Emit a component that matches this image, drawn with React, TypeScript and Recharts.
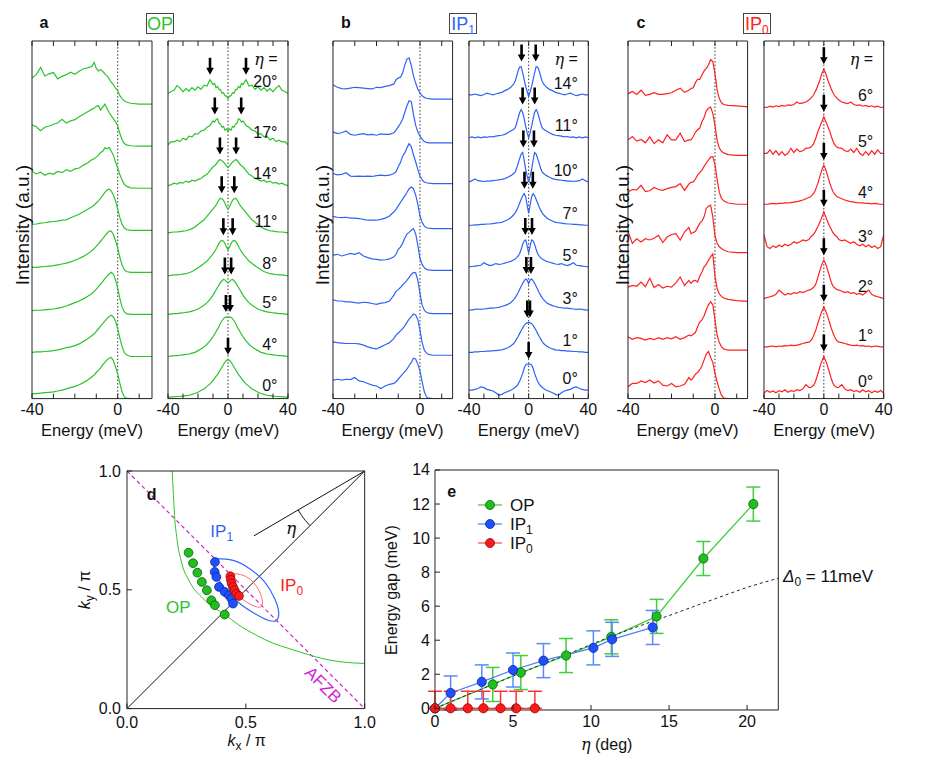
import React from 'react';
import { ComposedChart, Line, Scatter, XAxis, YAxis, ReferenceLine, ErrorBar, Legend } from 'recharts';

const FONT = '"Liberation Sans", Arial, Helvetica, sans-serif';
const GREEN = '#2bc42b';
const BLUE = '#2f63f6';
const RED = '#ff2020';

// ---------- spectra: energy grids ----------
const edcE = [-40, -38, -36, -34, -32, -30, -28, -26, -24, -22, -20, -18, -16, -14, -12, -11, -10, -9, -8, -7, -6, -5, -4, -3, -2, -1, 0, 1, 2, 3, 4, 6, 10, 16];
const symE = [0, 1, 2, 3, 4, 5, 6, 7, 8, 9, 10, 12, 14, 16, 18, 20, 22, 24, 26, 28, 30, 32, 34, 36, 38, 40];

// EDCs, bottom curve first
const opEdc = [
  [0.12, 0.12, 0.13, 0.14, 0.15, 0.16, 0.18, 0.2, 0.23, 0.26, 0.29, 0.33, 0.38, 0.44, 0.52, 0.56, 0.62, 0.67, 0.73, 0.8, 0.86, 0.92, 0.96, 0.98, 0.9, 0.75, 0.58, 0.36, 0.16, 0.05, 0.01, 0, 0, 0],
  [0.1, 0.11, 0.11, 0.12, 0.13, 0.14, 0.16, 0.18, 0.21, 0.23, 0.26, 0.3, 0.36, 0.42, 0.5, 0.54, 0.6, 0.66, 0.72, 0.78, 0.84, 0.9, 0.95, 0.98, 0.94, 0.84, 0.66, 0.44, 0.24, 0.1, 0.04, 0, 0, 0],
  [0.09, 0.1, 0.1, 0.11, 0.12, 0.13, 0.15, 0.17, 0.2, 0.24, 0.28, 0.32, 0.37, 0.43, 0.5, 0.55, 0.6, 0.66, 0.72, 0.78, 0.85, 0.91, 0.96, 1.0, 0.96, 0.82, 0.62, 0.38, 0.18, 0.07, 0.02, 0, 0, 0],
  [0.12, 0.12, 0.13, 0.14, 0.15, 0.16, 0.18, 0.2, 0.22, 0.25, 0.29, 0.33, 0.38, 0.44, 0.52, 0.56, 0.62, 0.68, 0.74, 0.8, 0.87, 0.93, 0.98, 0.98, 0.9, 0.75, 0.58, 0.36, 0.18, 0.07, 0.02, 0, 0, 0],
  [0.14, 0.15, 0.17, 0.18, 0.2, 0.21, 0.22, 0.24, 0.25, 0.3, 0.34, 0.38, 0.44, 0.5, 0.56, 0.6, 0.65, 0.7, 0.76, 0.83, 0.9, 0.96, 0.98, 0.93, 0.84, 0.7, 0.5, 0.3, 0.15, 0.06, 0.02, 0, 0, 0],
  [0.4, 0.34, 0.38, 0.31, 0.36, 0.33, 0.4, 0.37, 0.44, 0.4, 0.46, 0.48, 0.55, 0.6, 0.68, 0.7, 0.74, 0.78, 0.85, 0.88, 0.96, 0.94, 0.97, 0.88, 0.78, 0.62, 0.48, 0.32, 0.2, 0.1, 0.05, 0.01, 0, 0],
  [0.51, 0.46, 0.37, 0.45, 0.48, 0.52, 0.55, 0.64, 0.55, 0.6, 0.63, 0.7, 0.76, 0.82, 0.88, 0.9, 0.95, 0.96, 0.86, 0.93, 1.0, 0.9, 0.8, 0.72, 0.65, 0.58, 0.48, 0.3, 0.16, 0.07, 0.03, 0.01, 0, 0],
  [0.62, 0.7, 0.87, 0.67, 0.72, 0.75, 0.6, 0.66, 0.7, 0.76, 0.71, 0.78, 0.84, 0.86, 0.9, 0.99, 0.85, 0.79, 0.82, 0.78, 0.72, 0.67, 0.6, 0.52, 0.46, 0.38, 0.32, 0.2, 0.13, 0.08, 0.05, 0.02, 0, 0],
];
const ip1Edc = [
  [0.44, 0.46, 0.44, 0.46, 0.45, 0.5, 0.42, 0.4, 0.36, 0.32, 0.3, 0.24, 0.3, 0.34, 0.36, 0.4, 0.46, 0.52, 0.58, 0.64, 0.7, 0.78, 0.86, 0.96, 0.94, 0.82, 0.66, 0.4, 0.16, 0.04, 0.01, 0, 0, 0],
  [0.32, 0.3, 0.29, 0.28, 0.28, 0.28, 0.27, 0.24, 0.2, 0.17, 0.15, 0.2, 0.25, 0.3, 0.4, 0.48, 0.53, 0.58, 0.63, 0.7, 0.78, 0.86, 0.92, 0.98, 0.96, 0.85, 0.6, 0.3, 0.12, 0.05, 0.02, 0, 0, 0],
  [0.33, 0.3, 0.3, 0.28, 0.28, 0.26, 0.25, 0.27, 0.26, 0.24, 0.22, 0.25, 0.26, 0.3, 0.44, 0.53, 0.57, 0.62, 0.68, 0.73, 0.79, 0.86, 0.93, 0.98, 0.97, 0.8, 0.48, 0.2, 0.08, 0.03, 0.01, 0, 0, 0],
  [0.36, 0.38, 0.34, 0.37, 0.4, 0.38, 0.42, 0.34, 0.3, 0.27, 0.26, 0.24, 0.25, 0.27, 0.32, 0.38, 0.5, 0.55, 0.64, 0.76, 0.86, 0.9, 0.95, 0.99, 0.87, 0.6, 0.28, 0.14, 0.06, 0.02, 0.01, 0, 0, 0],
  [0.29, 0.27, 0.26, 0.27, 0.25, 0.25, 0.24, 0.22, 0.2, 0.2, 0.2, 0.22, 0.25, 0.3, 0.4, 0.46, 0.54, 0.62, 0.7, 0.78, 0.86, 0.95, 0.99, 0.95, 0.8, 0.58, 0.3, 0.15, 0.06, 0.02, 0.01, 0, 0, 0],
  [0.24, 0.21, 0.22, 0.26, 0.18, 0.17, 0.18, 0.17, 0.18, 0.17, 0.19, 0.2, 0.19, 0.2, 0.24, 0.28, 0.4, 0.5, 0.65, 0.73, 0.85, 0.95, 0.88, 0.68, 0.52, 0.34, 0.18, 0.09, 0.04, 0.02, 0.01, 0, 0, 0],
  [0.26, 0.22, 0.24, 0.28, 0.2, 0.18, 0.2, 0.22, 0.19, 0.2, 0.18, 0.21, 0.2, 0.2, 0.24, 0.3, 0.38, 0.46, 0.56, 0.72, 0.88, 1.0, 0.98, 0.68, 0.42, 0.26, 0.16, 0.08, 0.03, 0.01, 0, 0, 0, 0],
  [0.34, 0.28, 0.25, 0.24, 0.26, 0.28, 0.27, 0.26, 0.25, 0.24, 0.28, 0.27, 0.3, 0.32, 0.36, 0.46, 0.5, 0.52, 0.62, 0.8, 0.95, 0.98, 0.8, 0.55, 0.38, 0.24, 0.14, 0.08, 0.04, 0.02, 0.01, 0, 0, 0],
];
const ip0Edc = [
  [0.28, 0.36, 0.36, 0.42, 0.38, 0.44, 0.37, 0.42, 0.32, 0.3, 0.36, 0.28, 0.3, 0.34, 0.5, 0.44, 0.5, 0.58, 0.62, 0.68, 0.78, 0.92, 1.06, 1.12, 0.98, 0.86, 0.6, 0.4, 0.22, 0.08, 0.01, 0, 0, 0],
  [0.32, 0.26, 0.3, 0.28, 0.24, 0.28, 0.25, 0.3, 0.26, 0.3, 0.27, 0.32, 0.26, 0.3, 0.36, 0.34, 0.38, 0.42, 0.55, 0.67, 0.72, 0.82, 0.96, 1.08, 1.15, 1.08, 0.72, 0.35, 0.18, 0.08, 0.03, 0, 0, 0],
  [0.34, 0.38, 0.36, 0.46, 0.35, 0.55, 0.33, 0.4, 0.32, 0.36, 0.34, 0.44, 0.58, 0.38, 0.5, 0.43, 0.49, 0.5, 0.46, 0.6, 0.7, 0.82, 0.88, 0.98, 1.06, 1.13, 0.6, 0.3, 0.18, 0.12, 0.08, 0.05, 0.02, 0],
  [0.5, 0.22, 0.33, 0.25, 0.33, 0.3, 0.34, 0.41, 0.24, 0.37, 0.43, 0.45, 0.3, 0.49, 0.6, 0.45, 0.48, 0.5, 0.6, 0.7, 0.75, 0.85, 1.05, 1.1, 1.13, 0.85, 0.4, 0.22, 0.14, 0.1, 0.06, 0.02, 0, 0],
  [0.29, 0.35, 0.34, 0.45, 0.3, 0.32, 0.4, 0.35, 0.33, 0.37, 0.4, 0.42, 0.49, 0.33, 0.48, 0.52, 0.53, 0.6, 0.69, 0.75, 0.81, 0.9, 0.98, 1.05, 1.12, 1.13, 0.95, 0.58, 0.28, 0.14, 0.08, 0.03, 0, 0],
  [0.37, 0.45, 0.34, 0.38, 0.3, 0.44, 0.28, 0.37, 0.3, 0.49, 0.37, 0.37, 0.53, 0.33, 0.37, 0.37, 0.45, 0.55, 0.61, 0.65, 0.8, 0.9, 1.06, 1.12, 1.15, 1.0, 0.72, 0.35, 0.17, 0.1, 0.06, 0.02, 0, 0],
  [0.32, 0.37, 0.3, 0.4, 0.28, 0.3, 0.34, 0.3, 0.3, 0.32, 0.34, 0.4, 0.45, 0.35, 0.4, 0.44, 0.46, 0.58, 0.66, 0.66, 0.76, 0.86, 0.92, 1.0, 1.13, 1.08, 0.8, 0.4, 0.2, 0.1, 0.06, 0.04, 0.03, 0],
];

// symmetrized EDCs, values for E >= 0 (the curves are mirror images about E = 0)
const opSym = [
  [0.89, 0.88, 0.84, 0.78, 0.72, 0.66, 0.6, 0.54, 0.5, 0.45, 0.4, 0.32, 0.26, 0.2, 0.16, 0.12, 0.09, 0.07, 0.05, 0.04, 0.03, 0.02, 0.02, 0.01, 0.01, 0],
  [0.93, 0.94, 0.93, 0.9, 0.85, 0.79, 0.72, 0.65, 0.59, 0.53, 0.47, 0.37, 0.29, 0.23, 0.18, 0.14, 0.1, 0.08, 0.06, 0.05, 0.04, 0.03, 0.02, 0.02, 0.01, 0],
  [0.75, 0.78, 0.82, 0.83, 0.8, 0.76, 0.7, 0.64, 0.58, 0.52, 0.46, 0.36, 0.28, 0.22, 0.17, 0.13, 0.1, 0.08, 0.06, 0.05, 0.04, 0.03, 0.02, 0.02, 0.01, 0],
  [0.62, 0.68, 0.76, 0.82, 0.84, 0.82, 0.77, 0.7, 0.63, 0.57, 0.52, 0.43, 0.35, 0.29, 0.24, 0.19, 0.14, 0.1, 0.07, 0.05, 0.04, 0.03, 0.02, 0.02, 0.01, 0],
  [0.56, 0.62, 0.7, 0.77, 0.81, 0.82, 0.79, 0.72, 0.66, 0.61, 0.57, 0.48, 0.39, 0.31, 0.25, 0.2, 0.14, 0.1, 0.07, 0.05, 0.04, 0.03, 0.02, 0.02, 0.01, 0],
  [0.42, 0.46, 0.51, 0.55, 0.58, 0.61, 0.6, 0.55, 0.5, 0.46, 0.44, 0.35, 0.26, 0.22, 0.16, 0.14, 0.1, 0.12, 0.07, 0.1, 0.05, 0.07, 0.03, 0.05, 0.01, 0],
  [0.31, 0.36, 0.33, 0.42, 0.4, 0.47, 0.5, 0.6, 0.58, 0.52, 0.55, 0.44, 0.4, 0.33, 0.31, 0.24, 0.25, 0.17, 0.19, 0.1, 0.14, 0.06, 0.09, 0.05, 0.06, -0.02],
  [-0.12, -0.06, -0.05, 0.02, 0.01, 0.09, 0.1, 0.17, 0.14, 0.24, 0.22, 0.33, 0.18, 0.2, 0.1, 0.16, 0.08, 0.14, 0.06, 0.12, 0.04, 0.13, 0.19, 0.08, 0.05, 0],
];
const ip1Sym = [
  [0.62, 0.62, 0.6, 0.52, 0.4, 0.3, 0.22, 0.15, 0.1, 0.07, 0.04, 0, -0.03, -0.06, -0.1, -0.12, -0.06, -0.02, 0, 0.02, 0.06, 0.08, 0.04, 0.02, 0, 0],
  [0.71, 0.7, 0.68, 0.64, 0.58, 0.52, 0.45, 0.38, 0.32, 0.26, 0.21, 0.15, 0.11, 0.08, 0.06, 0.05, 0.04, 0.04, 0.03, 0.03, 0.02, 0.02, 0.01, 0.01, 0, 0],
  [0.63, 0.72, 0.74, 0.7, 0.64, 0.57, 0.5, 0.42, 0.36, 0.3, 0.25, 0.18, 0.14, 0.11, 0.09, 0.07, 0.06, 0.05, 0.05, 0.04, 0.03, 0.02, 0.03, 0.02, 0.01, 0],
  [0.32, 0.5, 0.64, 0.62, 0.54, 0.42, 0.32, 0.26, 0.22, 0.19, 0.17, 0.13, 0.11, 0.09, 0.07, 0.06, 0.08, 0.05, 0.03, 0.06, 0.1, 0.04, 0.03, 0.02, 0.01, 0],
  [0.28, 0.48, 0.68, 0.75, 0.7, 0.62, 0.53, 0.44, 0.36, 0.3, 0.25, 0.18, 0.13, 0.1, 0.07, 0.06, 0.05, 0.04, 0.03, 0.03, 0.02, 0.02, 0.01, 0.01, 0, 0],
  [0, 0.14, 0.3, 0.52, 0.7, 0.66, 0.56, 0.45, 0.33, 0.24, 0.2, 0.15, 0.11, 0.08, 0.06, 0.05, 0.04, 0.03, 0.02, 0.02, 0.01, 0.02, 0.03, 0.07, 0.03, 0],
  [0, 0.12, 0.27, 0.45, 0.6, 0.67, 0.6, 0.48, 0.35, 0.24, 0.2, 0.16, 0.12, 0.08, 0.06, 0.05, 0.04, 0.02, 0.03, 0.01, 0.02, 0, 0.02, 0, 0.02, 0],
  [-0.04, 0.08, 0.2, 0.36, 0.52, 0.67, 0.66, 0.58, 0.45, 0.33, 0.26, 0.18, 0.13, 0.1, 0.06, 0.04, 0.02, 0, 0.02, 0.04, 0.01, -0.02, 0, 0.02, 0, 0],
];
const ip0Sym = [
  [0.87, 0.79, 0.7, 0.58, 0.46, 0.34, 0.24, 0.18, 0.15, 0.13, 0.14, 0.2, 0.1, 0.06, 0.08, 0.04, 0.06, 0.02, 0.08, 0.03, 0.06, 0.01, 0.05, 0.02, 0.06, 0],
  [0.95, 0.87, 0.78, 0.67, 0.56, 0.44, 0.34, 0.25, 0.18, 0.14, 0.11, 0.1, 0.08, 0.06, 0.04, 0.03, 0.04, 0.02, 0.03, 0.01, 0.02, 0, 0.02, 0.01, 0, 0],
  [0.91, 0.84, 0.74, 0.62, 0.5, 0.38, 0.3, 0.26, 0.23, 0.21, 0.2, 0.17, 0.14, 0.16, 0.12, 0.14, 0.1, 0.12, 0.08, 0.14, 0.2, 0.1, 0.06, 0.04, 0.02, 0],
  [0.87, 0.78, 0.68, 0.6, 0.52, 0.45, 0.38, 0.33, 0.3, 0.26, 0.21, 0.18, 0.2, 0.16, 0.12, 0.16, 0.1, 0.06, 0.1, 0.04, 0.08, 0.02, 0.06, 0, 0.04, 0.32],
  [0.93, 0.85, 0.74, 0.62, 0.5, 0.4, 0.31, 0.25, 0.21, 0.18, 0.16, 0.13, 0.1, 0.08, 0.06, 0.05, 0.04, 0.03, 0.03, 0.02, 0.02, 0.01, 0.02, 0.01, 0, 0],
  [0.87, 0.78, 0.7, 0.6, 0.52, 0.4, 0.3, 0.22, 0.17, 0.14, 0.13, 0.12, 0.06, 0.04, 0.1, 0.02, 0.12, 0, -0.05, 0.04, -0.04, 0.06, -0.02, 0.08, 0, 0],
  [0.9, 0.82, 0.72, 0.6, 0.52, 0.42, 0.35, 0.28, 0.24, 0.2, 0.17, 0.12, 0.1, 0.08, 0.12, 0.06, 0.04, 0.05, 0.02, 0.04, 0.01, 0.03, 0, 0.02, -0.01, 0],
];

const opAngles = ['0°', '4°', '5°', '8°', '11°', '14°', '17°', '20°'];
const ip1Angles = ['0°', '1°', '3°', '5°', '7°', '10°', '11°', '14°'];
const ip0Angles = ['0°', '1°', '2°', '3°', '4°', '5°', '6°'];

// ---------- gap vs eta ----------
const opEta = [0, 3.7, 5.5, 8.4, 11.3, 14.2, 17.2, 20.4];
const opGap = [0, 1.4, 2.1, 3.1, 4.2, 5.4, 8.8, 12.0];
const opErr = [0, 1, 1, 1, 1, 1, 1, 1];
const ip1Eta = [0, 1.0, 3.0, 5.0, 6.95, 10.15, 11.35, 13.95];
const ip1Gap = [0, 0.9, 1.55, 2.25, 2.8, 3.55, 4.05, 4.75];
const ip1Err = [0, 1, 1, 1, 1, 1, 1, 1];
const ip0Eta = [0, 1.0, 2.1, 3.1, 4.2, 5.2, 6.4];
const ip0Gap = [0, 0, 0, 0, 0, 0, 0];
const ip0ErrUp = [1, 1, 1, 1, 1, 1, 1];
const fitEta = [0, 4, 8, 12, 15, 18, 20, 22];
const fitGap = [0, 1.52, 3.0, 4.47, 5.45, 6.45, 7.1, 7.64];

// ---------- k-space ----------
const fsOpKx = [0.19, 0.194, 0.2, 0.21, 0.229, 0.264, 0.32, 0.365, 0.411, 0.47, 0.544, 0.61, 0.684, 0.76, 0.825, 0.9, 1.0];
const fsOpKy = [1.0, 0.926, 0.813, 0.715, 0.617, 0.533, 0.463, 0.425, 0.396, 0.352, 0.309, 0.277, 0.252, 0.228, 0.21, 0.197, 0.19];
const fsIp1Kx = [0.369, 0.446, 0.516, 0.579, 0.621, 0.638, 0.629, 0.593, 0.537, 0.474, 0.425, 0.383, 0.365, 0.369];
const fsIp1Ky = [0.631, 0.624, 0.589, 0.533, 0.463, 0.407, 0.372, 0.372, 0.4, 0.442, 0.491, 0.547, 0.603, 0.631];
const fsIp0Kx = [0.446, 0.488, 0.53, 0.558, 0.57, 0.562, 0.537, 0.502, 0.467, 0.439, 0.429, 0.432, 0.446];
const fsIp0Ky = [0.568, 0.561, 0.533, 0.491, 0.449, 0.428, 0.431, 0.449, 0.477, 0.512, 0.547, 0.562, 0.568];
const kOpX = [0.259, 0.278, 0.296, 0.315, 0.336, 0.355, 0.37, 0.411];
const kOpY = [0.656, 0.612, 0.572, 0.533, 0.498, 0.456, 0.435, 0.396];
const kIp1X = [0.37, 0.369, 0.376, 0.387, 0.411, 0.429, 0.439, 0.446];
const kIp1Y = [0.617, 0.575, 0.554, 0.512, 0.491, 0.477, 0.463, 0.442];
const kIp0X = [0.435, 0.437, 0.44, 0.446, 0.453, 0.46, 0.471];
const kIp0Y = [0.557, 0.542, 0.527, 0.512, 0.498, 0.484, 0.474];
const diagKx = [0, 1];
const diagKy = [0, 1];
const etaLineKx = [1, 0.534];
const etaLineKy = [1, 0.727];
const etaArcKx = [0.72, 0.734, 0.751, 0.77];
const etaArcKy = [0.836, 0.814, 0.791, 0.77];
const afzbKx = [0, 1];
const afzbKy = [1, 0];

// stacking of the curves (panel units)
const opEdcOff = [0, 1, 2, 3, 4, 5, 6, 7];
const ip1EdcOff = [0, 1.03, 2.02, 3.05, 4.04, 5.11, 6.08, 7.12];
const ip0EdcOff = [0, 1.15, 2.31, 3.47, 4.62, 5.78, 6.93];
const opSymOff = [0.03, 1.0, 2.0, 2.92, 3.94, 5.07, 6.05, 7.25];
const ip1SymOff = [0.2, 1.1, 2.1, 3.13, 4.12, 5.15, 6.2, 7.22];
const ip0SymOff = [0.13, 1.23, 2.38, 3.57, 4.62, 5.83, 6.93];

type Pt = { e: number; v: number; t?: string };

const edcCurve = (vals: number[], off: number): Pt[] => edcE.map((e, i) => ({ e, v: vals[i] + off }));
const symCurve = (half: number[], off: number): Pt[] => {
  const pts: Pt[] = [];
  for (let i = symE.length - 1; i > 0; i--) pts.push({ e: -symE[i], v: half[i] + off });
  symE.forEach((e, i) => pts.push({ e, v: half[i] + off }));
  return pts;
};
const arrowPts = (gaps: number[], halves: number[][], offs: number[]): Pt[] => {
  const pts: Pt[] = [];
  gaps.forEach((g, i) => {
    const near = symE.map((e, j) => (Math.abs(e - g) <= 1 ? halves[i][j] : -9));
    const v = offs[i] + Math.max(...near) + 0.12;
    if (g < 0.5) pts.push({ e: 0, v });
    else {
      pts.push({ e: -g, v });
      pts.push({ e: g, v });
    }
  });
  return pts;
};
const labelPts = (names: string[], offs: number[]): Pt[] => [
  ...names.map((t, i) => ({ e: 33, v: offs[i] + 0.28, t })),
  { e: 33, v: 8.08, t: 'eta' },
];

// custom ticks: inward tick marks, optional labels
function makeTick(side: string, labels: number[], fmt: (v: number) => string = String, fs = 16, gap = 16, len = 5) {
  return (p: any) => {
    const { x, y, payload } = p;
    const v = payload.value as number;
    const show = labels.indexOf(v) >= 0;
    let l = [x, y, x, y - len];
    if (side === 'top') l = [x, y, x, y + len];
    if (side === 'left') l = [x, y, x + len, y];
    if (side === 'right') l = [x, y, x - len, y];
    return (
      <g>
        <line x1={l[0]} y1={l[1]} x2={l[2]} y2={l[3]} stroke="#222" strokeWidth={1} />
        {show && side === 'bottom' && (
          <text x={x} y={y + gap} textAnchor="middle" fontSize={fs} fontFamily={FONT} fill="#111">{fmt(v)}</text>
        )}
        {show && side === 'left' && (
          <text x={x - gap} y={y} textAnchor="end" dominantBaseline="central" fontSize={fs} fontFamily={FONT} fill="#111">{fmt(v)}</text>
        )}
      </g>
    );
  };
}

const Arrow = (p: any) => {
  const { cx, cy } = p;
  const d = `M${cx - 1.3},${cy - 17} L${cx + 1.3},${cy - 17} L${cx + 1.3},${cy - 7} L${cx + 3.8},${cy - 7} L${cx},${cy} L${cx - 3.8},${cy - 7} L${cx - 1.3},${cy - 7} Z`;
  return <path d={d} fill="#000" />;
};

const AngleText = (p: any) => {
  const t = p.payload.t;
  return (
    <text x={p.cx} y={p.cy} textAnchor="end" dominantBaseline="central" fontSize={16} fontFamily={FONT} fill="#111">
      {t === 'eta' ? (
        <>
          <tspan fontStyle="italic" fontFamily="'DejaVu Serif', serif">η</tspan> =
        </>
      ) : (
        t
      )}
    </text>
  );
};

const TOP = 40.7;
const BOT = 398.3;
const YMAX = 8.5;

type SpecProps = {
  left: number;
  right: number;
  xMin: number;
  xMax: number;
  ticks: number[];
  labels: number[];
  color: string;
  curves: Pt[][];
  arrows?: Pt[];
  texts?: Pt[];
};

// axes get size 1 (0 would hide them), margins are reduced by 1 to compensate
function SpecPanel({ left, right, xMin, xMax, ticks, labels, color, curves, arrows, texts }: SpecProps) {
  const ml = 30;
  const mr = 14;
  const mt = 6;
  const mb = 26;
  const w = right - left;
  const h = BOT - TOP;
  return (
    <div style={{ position: 'absolute', left: left - ml, top: TOP - mt }}>
      <ComposedChart width={w + ml + mr} height={h + mt + mb} margin={{ top: mt - 1, right: mr - 1, bottom: mb - 1, left: ml - 1 }}>
        <XAxis dataKey="e" type="number" domain={[xMin, xMax]} ticks={ticks} interval={0} allowDataOverflow height={1} tickSize={0} tickMargin={0} tickLine={false} axisLine={{ stroke: '#222' }} tick={makeTick('bottom', labels)} />
        <XAxis xAxisId="top" orientation="top" dataKey="e" type="number" domain={[xMin, xMax]} ticks={ticks} interval={0} allowDataOverflow height={1} tickSize={0} tickMargin={0} tickLine={false} axisLine={{ stroke: '#222' }} tick={makeTick('top', [])} />
        <YAxis dataKey="v" type="number" domain={[0, YMAX]} allowDataOverflow width={1} tick={false} tickLine={false} axisLine={{ stroke: '#222' }} />
        <YAxis yAxisId="r" orientation="right" type="number" domain={[0, YMAX]} width={1} tick={false} tickLine={false} axisLine={{ stroke: '#222' }} />
        <ReferenceLine x={0} stroke="#333" strokeDasharray="1.5 2" />
        {curves.map((c, i) => (
          <Line key={i} data={c} dataKey="v" type="linear" stroke={color} strokeWidth={1.2} dot={false} isAnimationActive={false} />
        ))}
        {arrows && <Scatter data={arrows} dataKey="v" shape={Arrow} isAnimationActive={false} />}
        {texts && <Scatter data={texts} dataKey="v" shape={AngleText} isAnimationActive={false} />}
      </ComposedChart>
    </div>
  );
}

const zipK = (xs: number[], ys: number[]) => xs.map((kx, i) => ({ kx, ky: ys[i] }));

const kDot = (fill: string, stroke: string) => (p: any) => (
  <circle cx={p.cx} cy={p.cy} r={4.4} fill={fill} stroke={stroke} strokeWidth={0.8} />
);

function KPanel() {
  const left = 127.3;
  const right = 365;
  const top = 470.7;
  const bottom = 708.3;
  const ml = 45;
  const mr = 12;
  const mt = 8;
  const mb = 30;
  const f1 = (v: number) => v.toFixed(1);
  return (
    <div style={{ position: 'absolute', left: left - ml, top: top - mt }}>
      <ComposedChart width={right - left + ml + mr} height={bottom - top + mt + mb} margin={{ top: mt - 1, right: mr - 1, bottom: mb - 1, left: ml - 1 }}>
        <XAxis dataKey="kx" type="number" domain={[0, 1]} ticks={[0, 0.5, 1]} interval={0} height={1} tickSize={0} tickMargin={0} tickLine={false} axisLine={{ stroke: '#222' }} tick={makeTick('bottom', [0, 0.5, 1], f1, 16, 19)} />
        <XAxis xAxisId="top" orientation="top" dataKey="kx" type="number" domain={[0, 1]} ticks={[0.5]} interval={0} height={1} tickSize={0} tickMargin={0} tickLine={false} axisLine={{ stroke: '#222' }} tick={makeTick('top', [])} />
        <YAxis dataKey="ky" type="number" domain={[0, 1]} ticks={[0, 0.5, 1]} interval={0} width={1} tickSize={0} tickMargin={0} tickLine={false} axisLine={{ stroke: '#222' }} tick={makeTick('left', [0, 0.5, 1], f1, 16, 6)} />
        <YAxis yAxisId="r" orientation="right" type="number" domain={[0, 1]} ticks={[0.5]} interval={0} width={1} tickSize={0} tickMargin={0} tickLine={false} axisLine={{ stroke: '#222' }} tick={makeTick('right', [])} />
        <Line data={zipK(afzbKx, afzbKy)} dataKey="ky" type="linear" stroke="#d21fd2" strokeWidth={1.2} strokeDasharray="4 3" dot={false} isAnimationActive={false} />
        <Line data={zipK(diagKx, diagKy)} dataKey="ky" type="linear" stroke="#111" strokeWidth={1} dot={false} isAnimationActive={false} />
        <Line data={zipK(etaLineKx, etaLineKy)} dataKey="ky" type="linear" stroke="#111" strokeWidth={1} dot={false} isAnimationActive={false} />
        <Line data={zipK(etaArcKx, etaArcKy)} dataKey="ky" type="natural" stroke="#111" strokeWidth={1} dot={false} isAnimationActive={false} />
        <Line data={zipK(fsOpKx, fsOpKy)} dataKey="ky" type="monotone" stroke={GREEN} strokeWidth={1} dot={false} isAnimationActive={false} />
        <Line data={zipK(fsIp1Kx, fsIp1Ky)} dataKey="ky" type="natural" stroke="#2d6bff" strokeWidth={1.2} dot={false} isAnimationActive={false} />
        <Line data={zipK(fsIp0Kx, fsIp0Ky)} dataKey="ky" type="natural" stroke="#ff6a6a" strokeWidth={1} dot={false} isAnimationActive={false} />
        <Scatter data={zipK(kOpX, kOpY)} dataKey="ky" shape={kDot('#1fbf1f', '#0b5e0b')} isAnimationActive={false} />
        <Scatter data={zipK(kIp1X, kIp1Y)} dataKey="ky" shape={kDot('#1f4fff', '#0a2a99')} isAnimationActive={false} />
        <Scatter data={zipK(kIp0X, kIp0Y)} dataKey="ky" shape={kDot('#ff1a1a', '#8a0c0c')} isAnimationActive={false} />
      </ComposedChart>
    </div>
  );
}

const legendRows = [
  { name: 'OP', sub: '', line: '#5fd35f', fill: '#1fbf1f', stroke: '#0b5e0b' },
  { name: 'IP', sub: '1', line: '#6f93ff', fill: '#1f4fff', stroke: '#0a2a99' },
  { name: 'IP', sub: '0', line: '#ff6a6a', fill: '#ff1a1a', stroke: '#8a0c0c' },
];

const GapLegend = () => (
  <svg width={80} height={60} style={{ overflow: 'visible' }}>
    {legendRows.map((r, i) => (
      <g key={r.name + r.sub} transform={`translate(0, ${10 + i * 19})`}>
        <line x1={2} x2={26} y1={0} y2={0} stroke={r.line} strokeWidth={1.5} />
        <circle cx={14} cy={0} r={4.5} fill={r.fill} stroke={r.stroke} strokeWidth={0.8} />
        <text x={34} y={6} fontSize={17} fontFamily={FONT} fill="#111">
          {r.name}
          {r.sub && (
            <tspan fontSize={12} dy={4}>{r.sub}</tspan>
          )}
        </text>
      </g>
    ))}
  </svg>
);

function GapPanel() {
  const left = 435;
  const right = 778.3;
  const top = 470;
  const bottom = 710;
  const ml = 50;
  const mr = 12;
  const mt = 10;
  const mb = 30;
  const op = opEta.map((eta, i) => ({ eta, gap: opGap[i], err: opErr[i] }));
  const ip1 = ip1Eta.map((eta, i) => ({ eta, gap: ip1Gap[i], err: ip1Err[i] }));
  const ip0 = ip0Eta.map((eta, i) => ({ eta, gap: ip0Gap[i], err: [0, ip0ErrUp[i]] }));
  const fit = fitEta.map((eta, i) => ({ eta, gap: fitGap[i] }));
  const yT = [0, 2, 4, 6, 8, 10, 12, 14];
  return (
    <div style={{ position: 'absolute', left: left - ml, top: top - mt }}>
      <ComposedChart width={right - left + ml + mr} height={bottom - top + mt + mb} margin={{ top: mt - 1, right: mr - 1, bottom: mb - 1, left: ml - 1 }}>
        <XAxis dataKey="eta" type="number" domain={[0, 22]} ticks={[0, 5, 10, 15, 20]} interval={0} height={1} tickSize={0} tickMargin={0} tickLine={false} axisLine={{ stroke: '#222' }} tick={makeTick('bottom', [0, 5, 10, 15, 20], String, 16, 17)} />
        <XAxis xAxisId="top" orientation="top" type="number" domain={[0, 22]} ticks={[5, 10, 15, 20]} interval={0} height={1} tickSize={0} tickMargin={0} tickLine={false} axisLine={{ stroke: '#222' }} tick={makeTick('top', [])} />
        <YAxis dataKey="gap" type="number" domain={[0, 14]} ticks={yT} interval={0} width={1} tickSize={0} tickMargin={0} tickLine={false} axisLine={{ stroke: '#222' }} tick={makeTick('left', yT, String, 16, 5)} />
        <YAxis yAxisId="r" orientation="right" type="number" domain={[0, 14]} ticks={yT} interval={0} width={1} tickSize={0} tickMargin={0} tickLine={false} axisLine={{ stroke: '#222' }} tick={makeTick('right', [])} />
        <Line data={op} dataKey="gap" type="linear" stroke="#3fcf3f" strokeWidth={1.3} dot={false} isAnimationActive={false} />
        <Line data={fit} dataKey="gap" type="monotone" stroke="#222" strokeWidth={1} strokeDasharray="3 3" dot={false} isAnimationActive={false} />
        <Line data={op} dataKey="gap" stroke="none" dot={{ r: 4.6, fill: '#1fbf1f', stroke: '#0b5e0b', strokeWidth: 0.8 }} isAnimationActive={false}>
          <ErrorBar dataKey="err" width={7} stroke="#3fcf3f" strokeWidth={1.5} direction="y" />
        </Line>
        <Line data={ip1} dataKey="gap" type="linear" stroke="#4f7fff" strokeWidth={1.3} dot={{ r: 4.6, fill: '#1f4fff', stroke: '#0a2a99', strokeWidth: 0.8 }} isAnimationActive={false}>
          <ErrorBar dataKey="err" width={7} stroke="#5a88ff" strokeWidth={1.5} direction="y" />
        </Line>
        <Line data={ip0} dataKey="gap" type="linear" stroke="#ff3030" strokeWidth={1.3} dot={{ r: 4.6, fill: '#ff1a1a', stroke: '#8a0c0c', strokeWidth: 0.8 }} isAnimationActive={false}>
          <ErrorBar dataKey="err" width={7} stroke="#ff3030" strokeWidth={1.5} direction="y" />
        </Line>
        <Legend layout="vertical" align="center" verticalAlign="middle" content={() => <GapLegend />} wrapperStyle={{ left: 91, top: 35, width: 80 }} />
      </ComposedChart>
    </div>
  );
}

const T = ({ x, y, children, style }: { x: number; y: number; children: React.ReactNode; style?: React.CSSProperties }) => (
  <div style={{ position: 'absolute', left: x, top: y, transform: 'translate(-50%, -50%)', whiteSpace: 'nowrap', lineHeight: 1, ...style }}>{children}</div>
);
const VT = ({ x, y, children, style }: { x: number; y: number; children: React.ReactNode; style?: React.CSSProperties }) => (
  <div style={{ position: 'absolute', left: x, top: y, transform: 'translate(-50%, -50%) rotate(-90deg)', whiteSpace: 'nowrap', lineHeight: 1, ...style }}>{children}</div>
);
const Box = ({ x, y, w, color, children }: { x: number; y: number; w: number; color: string; children: React.ReactNode }) => (
  <div style={{ position: 'absolute', left: x, top: y, width: w, height: 21, boxSizing: 'border-box', border: '1px solid #444', color, fontSize: 18, lineHeight: '20px', textAlign: 'center' }}>{children}</div>
);
const sub = (s: string) => <sub style={{ fontSize: 12, verticalAlign: '-4px' }}>{s}</sub>;

const edcTicks = [-40, -30, -20, -10, 0, 10];
const symTicks = [-40, -30, -20, -10, 0, 10, 20, 30, 40];

export default function App() {
  return (
    <div style={{ position: 'absolute', left: 0, top: 0, width: 926, height: 769, background: '#fff', fontFamily: FONT, color: '#111', overflow: 'hidden' }}>
      <SpecPanel left={32} right={152} xMin={-40} xMax={16} ticks={edcTicks} labels={[-40, 0]} color={GREEN} curves={opEdc.map((c, i) => edcCurve(c, opEdcOff[i]))} />
      <SpecPanel left={168.3} right={288.3} xMin={-40} xMax={40} ticks={symTicks} labels={[-40, 0, 40]} color={GREEN} curves={opSym.map((c, i) => symCurve(c, opSymOff[i]))} arrows={arrowPts(opGap, opSym, opSymOff)} texts={labelPts(opAngles, opSymOff)} />
      <SpecPanel left={332.7} right={452.3} xMin={-40} xMax={15} ticks={edcTicks} labels={[-40, 0]} color={BLUE} curves={ip1Edc.map((c, i) => edcCurve(c, ip1EdcOff[i]))} />
      <SpecPanel left={469} right={588.3} xMin={-40} xMax={40} ticks={symTicks} labels={[-40, 0, 40]} color={BLUE} curves={ip1Sym.map((c, i) => symCurve(c, ip1SymOff[i]))} arrows={arrowPts(ip1Gap, ip1Sym, ip1SymOff)} texts={labelPts(ip1Angles, ip1SymOff)} />
      <SpecPanel left={627.7} right={747.3} xMin={-40} xMax={15} ticks={edcTicks} labels={[-40, 0]} color={RED} curves={ip0Edc.map((c, i) => edcCurve(c, ip0EdcOff[i]))} />
      <SpecPanel left={764.3} right={884} xMin={-40} xMax={40} ticks={symTicks} labels={[-40, 0, 40]} color={RED} curves={ip0Sym.map((c, i) => symCurve(c, ip0SymOff[i]))} arrows={arrowPts(ip0Gap, ip0Sym, ip0SymOff)} texts={labelPts(ip0Angles, ip0SymOff)} />

      <T x={44} y={23} style={{ fontWeight: 'bold', fontSize: 16 }}>a</T>
      <Box x={145.7} y={13.3} w={28.6} color={GREEN}>OP</Box>
      <T x={346} y={23} style={{ fontWeight: 'bold', fontSize: 16 }}>b</T>
      <Box x={449.3} y={13.3} w={27.6} color={BLUE}>IP{sub('1')}</Box>
      <T x={641} y={23} style={{ fontWeight: 'bold', fontSize: 16 }}>c</T>
      <Box x={742.7} y={13.3} w={28.4} color={RED}>IP{sub('0')}</Box>

      <VT x={21.7} y={225} style={{ fontSize: 19 }}>Intensity (a.u.)</VT>
      <VT x={322} y={225} style={{ fontSize: 19 }}>Intensity (a.u.)</VT>
      <VT x={621.7} y={225} style={{ fontSize: 19 }}>Intensity (a.u.)</VT>
      {[92, 228.3, 392.5, 528.7, 687.5, 824.2].map((x) => (
        <T key={x} x={x} y={430} style={{ fontSize: 16.5 }}>Energy (meV)</T>
      ))}

      <KPanel />
      <T x={151.7} y={495} style={{ fontWeight: 'bold', fontSize: 16 }}>d</T>
      <T x={221.7} y={533} style={{ fontSize: 17, color: BLUE }}>IP{sub('1')}</T>
      <T x={291.7} y={586.7} style={{ fontSize: 17, color: RED }}>IP{sub('0')}</T>
      <T x={178.3} y={606.7} style={{ fontSize: 17, color: GREEN }}>OP</T>
      <T x={291} y={528} style={{ fontSize: 17, fontStyle: 'italic', fontFamily: "'DejaVu Serif', serif" }}>η</T>
      <T x={323.3} y={685} style={{ fontSize: 17, color: '#d21fd2', transform: 'translate(-50%, -50%) rotate(45deg)' }}>AFZB</T>
      <T x={246.7} y={741.7} style={{ fontSize: 16 }}><i>k</i>{sub('x')} / π</T>
      <VT x={86} y={590} style={{ fontSize: 16 }}><i>k</i>{sub('y')} / π</VT>

      <GapPanel />
      <T x={451.7} y={491.7} style={{ fontWeight: 'bold', fontSize: 16 }}>e</T>
      <T x={606.7} y={745} style={{ fontSize: 16 }}><i style={{ fontFamily: "'DejaVu Serif', serif" }}>η</i> (deg)</T>
      <VT x={392} y={590} style={{ fontSize: 16 }}>Energy gap (meV)</VT>
      <div style={{ position: 'absolute', left: 783, top: 568, fontSize: 17, whiteSpace: 'nowrap', lineHeight: 1 }}>
        <i>Δ</i>{sub('0')} = 11meV
      </div>
    </div>
  );
}
